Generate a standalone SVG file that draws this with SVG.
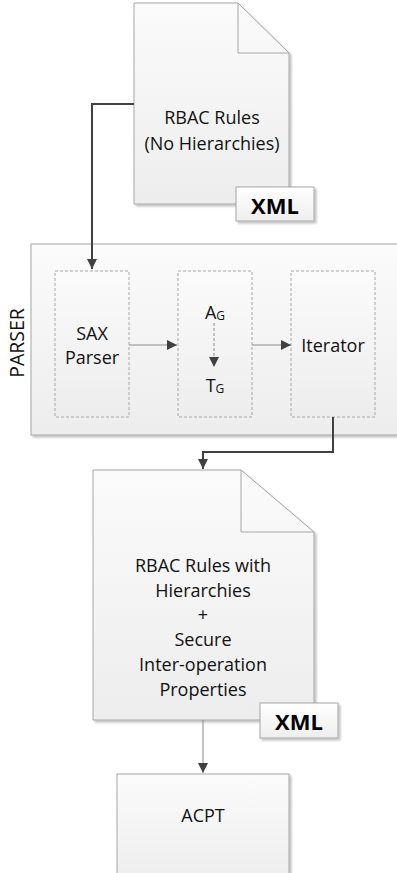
<svg xmlns="http://www.w3.org/2000/svg" width="397" height="873" viewBox="0 0 397 873">
<defs>
<linearGradient id="g" x1="0" y1="0" x2="0" y2="1"><stop offset="0" stop-color="#fbfbfb"/><stop offset="1" stop-color="#ededed"/></linearGradient>
<linearGradient id="gx" x1="0" y1="0" x2="0" y2="1"><stop offset="0" stop-color="#ffffff"/><stop offset="1" stop-color="#eeeeee"/></linearGradient>
<filter id="sh" x="-10%" y="-10%" width="130%" height="130%"><feGaussianBlur in="SourceAlpha" stdDeviation="1.2"/><feOffset dx="2" dy="2"/><feComponentTransfer><feFuncA type="linear" slope="0.25"/></feComponentTransfer><feMerge><feMergeNode/><feMergeNode in="SourceGraphic"/></feMerge></filter>
<marker id="ah" viewBox="0 0 10 10" refX="10" refY="5" markerWidth="8" markerHeight="8" markerUnits="userSpaceOnUse" orient="auto"><path d="M0,0 L10,5 L0,10 z" fill="#404040"/></marker>
<marker id="ahb" viewBox="0 0 10 10" refX="10" refY="5" markerWidth="10" markerHeight="10" markerUnits="userSpaceOnUse" orient="auto"><path d="M0,0 L10,5 L0,10 z" fill="#404040"/></marker>
</defs>
<style>
text{font-family:"Open Sans","Noto Sans","Liberation Sans",sans-serif;font-size:18px;fill:#111;text-anchor:middle;dominant-baseline:central}
.xml{font-weight:bold;font-size:22px;fill:#000}
.lab{font-size:19.5px}
.sub{font-size:12px}
.doc{fill:url(#g);stroke:#a6a6a6;stroke-width:1}
.fold{fill:none;stroke:#a6a6a6;stroke-width:1}
.xbox{fill:url(#gx);stroke:#a6a6a6;stroke-width:1}
.inner{fill:url(#g);stroke:#a6a6a6;stroke-width:1;stroke-dasharray:3,2}
.thick{fill:none;stroke:#404040;stroke-width:2}
.thin{fill:none;stroke:#8c8c8c;stroke-width:1}
</style>
<g id="doc1">
<path class="doc" filter="url(#sh)" d="M134,3 H238 L289,53 V204 H134 Z"/>
<path class="fold" d="M238,3 V53 H289"/>
<text x="212" y="117">RBAC Rules</text>
<text x="212" y="143">(No Hierarchies)</text>
<rect class="xbox" filter="url(#sh)" x="236" y="187" width="78" height="34"/>
<text class="xml" x="275" y="205">XML</text>
</g>
<g id="parser">
<rect x="31" y="244" width="380" height="191" fill="url(#g)" stroke="#a6a6a6" filter="url(#sh)"/>
<text class="lab" transform="translate(16,343) rotate(-90)">PARSER</text>
</g>
<g id="sax">
<rect class="inner" x="55" y="271" width="74" height="146"/>
<text x="92" y="333">SAX</text>
<text x="92" y="357">Parser</text>
</g>
<g id="graph">
<rect class="inner" x="178" y="271" width="74" height="146"/>
<text x="215" y="312">A<tspan class="sub" dy="3">G</tspan></text>
<text x="215" y="385">T<tspan class="sub" dy="3">G</tspan></text>
<line x1="214" y1="323" x2="214" y2="367" stroke="#8c8c8c" stroke-dasharray="3,2" marker-end="url(#ahb)"/>
</g>
<g id="iterator">
<rect class="inner" x="291" y="271" width="84" height="146"/>
<text x="333" y="345">Iterator</text>
</g>
<g id="doc2">
<path class="doc" filter="url(#sh)" d="M93,470 H241 L314,532 V720 H93 Z"/>
<path class="fold" d="M241,470 V532 H314"/>
<text x="203" y="565">RBAC Rules with</text>
<text x="203" y="590">Hierarchies</text>
<text x="203" y="614">+</text>
<text x="203" y="639">Secure</text>
<text x="203" y="664">Inter-operation</text>
<text x="203" y="689">Properties</text>
<rect class="xbox" filter="url(#sh)" x="260" y="703" width="78" height="35"/>
<text class="xml" x="299" y="721">XML</text>
</g>
<g id="acpt">
<rect x="117" y="774" width="172" height="110" fill="url(#g)" stroke="#a6a6a6" filter="url(#sh)"/>
<text x="203" y="815">ACPT</text>
</g>
<g id="connectors">
<path class="thick" d="M134,104 H92 V269" marker-end="url(#ahb)"/>
<path class="thin" d="M129,345 H177" marker-end="url(#ahb)"/>
<path class="thin" d="M252,345 H291" marker-end="url(#ahb)"/>
<path class="thick" d="M333,417 V452 H203 V469" marker-end="url(#ahb)"/>
<path class="thin" d="M203,720 V773" marker-end="url(#ahb)"/>
</g>
</svg>
